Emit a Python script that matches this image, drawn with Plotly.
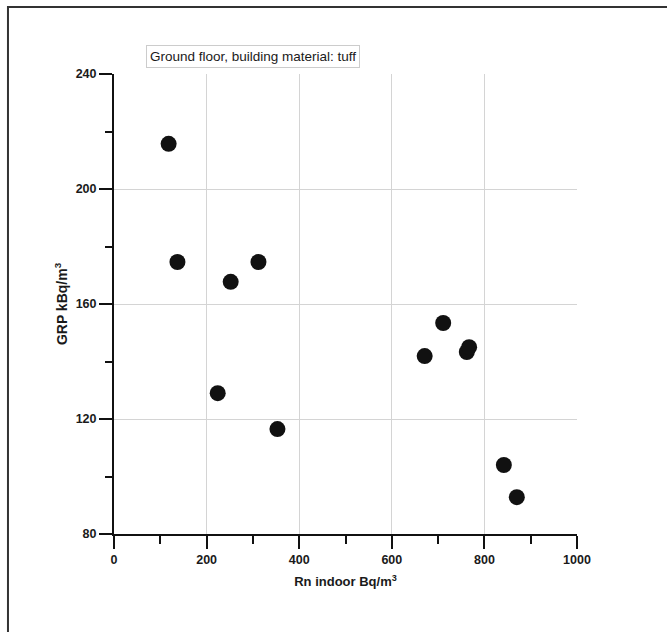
import plotly.graph_objects as go

rn_indoor = [118, 137, 252, 312, 224, 353, 671, 711, 762, 767, 842, 870]
grp = [215.7, 174.6, 167.7, 174.6, 129.0, 116.5, 141.9, 153.4, 143.3, 145.0, 104.0, 92.8]

x_ticks = [0, 200, 400, 600, 800, 1000]
y_ticks = [80, 120, 160, 200, 240]
title_text = "Ground floor, building material: tuff"

fig = go.Figure()
fig.add_trace(go.Scatter(
    x=rn_indoor, y=grp, mode="markers",
    marker=dict(size=16, color="#111111", line=dict(width=0)),
    showlegend=False,
))

tickfont = dict(family="Arial, Liberation Sans", size=12.5, color="#1a1a1a", weight="bold")
xtitlefont = dict(family="Arial, Liberation Sans", size=13, color="#1a1a1a", weight="bold")
ytitlefont = dict(family="Arial, Liberation Sans", size=14, color="#1a1a1a", weight="bold")

fig.update_xaxes(
    range=[0, 1000], tickvals=x_ticks, ticks="outside", ticklen=13, tickwidth=2,
    tickcolor="#111111", showline=True, linecolor="#111111", linewidth=2,
    showgrid=True, gridcolor="#d4d4d4", gridwidth=1, zeroline=False,
    minor=dict(dtick=100, tick0=0, ticks="outside", ticklen=8, tickwidth=2,
               tickcolor="#111111", showgrid=False),
    tickfont=tickfont,
    title=dict(text="Rn indoor Bq/m<sup>3</sup>", font=xtitlefont, standoff=11),
)
fig.update_yaxes(
    range=[80, 240], tickvals=y_ticks, ticks="outside", ticklen=13, tickwidth=2,
    tickcolor="#111111", showline=True, linecolor="#111111", linewidth=2,
    showgrid=True, gridcolor="#d4d4d4", gridwidth=1, zeroline=False,
    minor=dict(dtick=20, tick0=80, ticks="outside", ticklen=7, tickwidth=2,
               tickcolor="#111111", showgrid=False),
    tickfont=tickfont,
    title=dict(text="GRP kBq/m<sup>3</sup>", font=ytitlefont, standoff=5),
)

fig.add_annotation(
    x=0.300, y=1.039, xref="paper", yref="paper", text=title_text,
    showarrow=False, font=dict(family="Arial, Liberation Sans", size=13.5, color="#1a1a1a"),
    bordercolor="#cccccc", borderwidth=1, borderpad=3, bgcolor="white",
    xanchor="center", yanchor="middle",
)

fig.add_shape(type="rect", xref="paper", yref="paper",
              x0=-0.229, x1=1.4, y0=-0.5, y1=1.1457,
              line=dict(color="#333333", width=2), layer="below")

fig.update_layout(
    width=667, height=632,
    margin=dict(l=114, r=90, t=74, b=98),
    paper_bgcolor="white", plot_bgcolor="white",
)

fig.write_html("out.html")
